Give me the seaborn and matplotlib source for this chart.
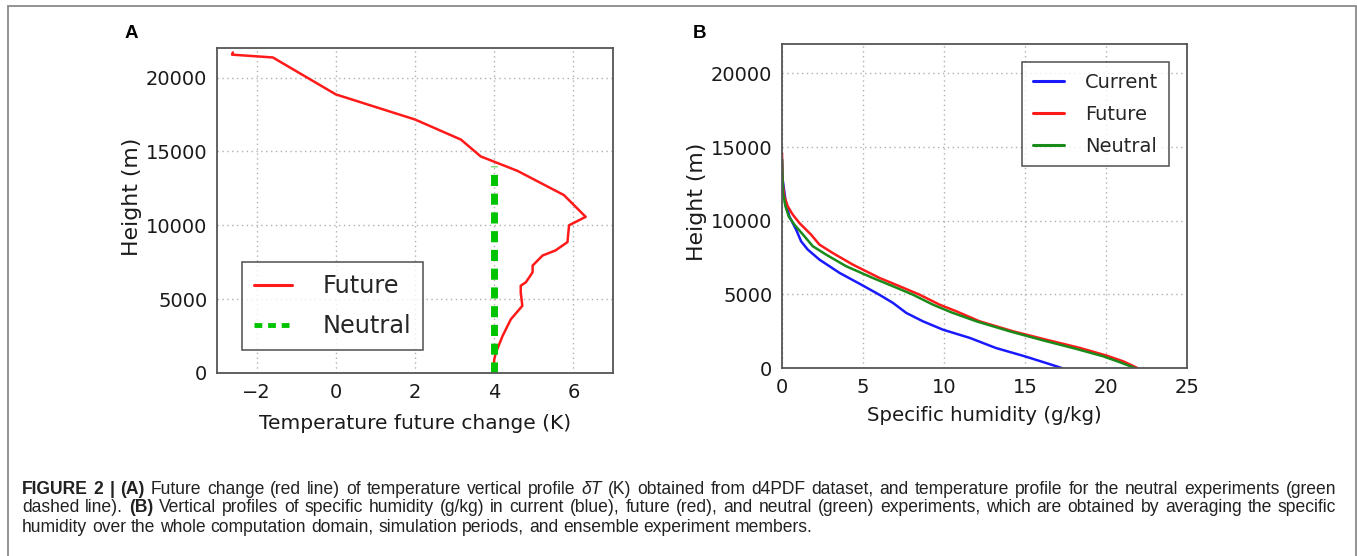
import numpy as np
import pandas as pd
import matplotlib
matplotlib.use("Agg")
import matplotlib.pyplot as plt
from matplotlib.patches import Rectangle
import seaborn as sns

# ---------------- data ----------------
# Panel A: temperature future change profile
dT_future = [-2.6, -2.62, -1.59, 0.0, 2.0, 3.16, 3.66, 4.59, 5.76, 6.31, 5.89, 5.85, 5.55,
             5.22, 4.97, 4.97, 4.8, 4.67, 4.67, 4.71, 4.42, 4.21, 4.04, 4.0, 3.98]
h_future_A = [21700, 21550, 21360, 18860, 17160, 15800, 14660, 13680, 12045, 10570, 10000, 8860, 8300,
              7950, 7270, 6820, 6140, 5910, 5450, 4545, 3636, 2500, 1360, 900, 0]
dT_neutral = [4.0, 4.0]
h_neutral_A = [0, 14000]

# Panel B: specific humidity profiles (g/kg) vs height (m)
q_current = [17.26, 16.3, 15.0, 13.2, 11.6, 9.94, 8.7, 7.67, 6.85, 6.0, 4.89, 3.55, 2.31, 1.59,
             1.18, 0.87, 0.45, 0.21, 0.04, 0.0]
h_current = [0, 340, 790, 1360, 2040, 2600, 3170, 3740, 4420, 4980, 5660, 6460, 7360, 8040,
             8600, 9400, 10300, 11440, 12800, 14150]
q_future = [21.94, 21.07, 20.04, 18.4, 16.3, 14.27, 12.2, 10.76, 9.73, 8.49, 7.26, 6.02, 4.37,
            3.13, 2.31, 1.79, 1.07, 0.66, 0.35, 0.14, 0.04, 0.0]
h_future = [0, 450, 840, 1360, 1925, 2490, 3170, 3850, 4300, 4980, 5550, 6115, 7020,
            7810, 8380, 9060, 9850, 10420, 10990, 11660, 12570, 14600]
q_neutral = [21.8, 20.87, 19.84, 18.19, 16.1, 14.06, 12.0, 10.45, 9.32, 8.08, 6.85, 5.6, 3.96,
             2.72, 1.9, 1.38, 0.76, 0.41, 0.21, 0.06, 0.0]
h_neutral = [0, 385, 790, 1290, 1880, 2490, 3170, 3780, 4300, 4980, 5550, 6115, 6910,
             7700, 8270, 8950, 9740, 10300, 10990, 11890, 14150]

xticks_A = [-2, 0, 2, 4, 6]
xticks_B = [0, 5, 10, 15, 20, 25]
yticks = [0, 5000, 10000, 15000, 20000]

# ---------------- style ----------------
sns.set_theme(style="white")
plt.rcParams['font.family'] = ['DejaVu Sans']

W, H = 1357, 556
fig = plt.figure(figsize=(W / 100, H / 100), dpi=100)
fig.patch.set_facecolor("white")

FRAME = "#555555"
GRIDC = "#b0b0b0"
TXT = "#1a1a1a"

def style_axes(ax, xlim, xticks):
    ax.set_xlim(*xlim)
    ax.set_ylim(0, 22000)
    ax.set_xticks(xticks)
    ax.set_yticks(yticks)
    ax.set_xticklabels([str(t).replace("-", "\u2212") for t in xticks])
    ax.grid(True, linestyle=(0, (1, 2.5)), color=GRIDC, linewidth=1.0)
    ax.tick_params(axis="both", labelsize=14, length=0, pad=7, colors=TXT)
    for s in ax.spines.values():
        s.set_color(FRAME)
        s.set_linewidth(1.3)
        s.set_visible(True)
    ax.set_facecolor("white")

# ---------------- Panel A ----------------
axA = fig.add_axes([217 / W, 1 - 373 / H, 396 / W, 325 / H])
dfA = pd.DataFrame({"x": dT_future, "h": h_future_A})
dfN = pd.DataFrame({"x": dT_neutral, "h": h_neutral_A})
sns.lineplot(data=dfA, x="x", y="h", sort=False, estimator=None, orient="y",
             color="#ff1a1a", linewidth=1.8, ax=axA, label="Future")
sns.lineplot(data=dfN, x="x", y="h", sort=False, estimator=None, orient="y",
             color="#00c400", linewidth=5, dashes=False, ax=axA, label="Neutral")
axA.lines[-1].set_linestyle((0, (1.6, 1.1)))
style_axes(axA, (-3, 7), xticks_A)
axA.set_xlabel("Temperature future change (K)", fontsize=14.5, color=TXT, labelpad=9)
axA.set_ylabel("Height (m)", fontsize=15.8, color=TXT)
axA.yaxis.set_label_coords(-0.189, 0.543)
legA = axA.legend(loc="lower left", bbox_to_anchor=(0.063, 0.071), borderaxespad=0,
                  fontsize=17.3, frameon=True, fancybox=False, handlelength=1.6,
                  handletextpad=1.25, borderpad=0.5, labelspacing=0.66)
legA.get_frame().set_edgecolor("#333333")
legA.get_frame().set_linewidth(1.2)
legA.legend_handles[0].set_linewidth(2.2)
legA.legend_handles[1].set_linewidth(3.5)
legA.legend_handles[1].set_linestyle((0, (1.6, 1.2)))

# ---------------- Panel B ----------------
axB = fig.add_axes([782 / W, 1 - 368 / H, 405 / W, 324 / H])
for q, h, c, lab in [(q_current, h_current, "#1a1aff", "Current"),
                     (q_future, h_future, "#ff1a1a", "Future"),
                     (q_neutral, h_neutral, "#1a8a1a", "Neutral")]:
    d = pd.DataFrame({"q": q, "h": h})
    sns.lineplot(data=d, x="q", y="h", sort=False, estimator=None, orient="y",
                 color=c, linewidth=1.8, ax=axB, label=lab)
style_axes(axB, (0, 25), xticks_B)
axB.set_xlabel("Specific humidity (g/kg)", fontsize=14.2, color=TXT, labelpad=7)
axB.set_ylabel("Height (m)", fontsize=15.8, color=TXT)
axB.yaxis.set_label_coords(-0.185, 0.512)
legB = axB.legend(loc="upper right", bbox_to_anchor=(0.9556, 0.944), borderaxespad=0,
                  fontsize=14, frameon=True, fancybox=False, handlelength=1.6,
                  handletextpad=1.1, borderpad=0.55, labelspacing=0.66)
legB.get_frame().set_edgecolor("#333333")
legB.get_frame().set_linewidth(1.2)
for lh in legB.legend_handles:
    lh.set_linewidth(2.2)

# ---------------- panel letters ----------------
fig.text(125 / W, 1 - 34 / H, "A", fontsize=13.5, fontweight="bold",
         family="Liberation Sans", va="center", ha="left", color="black")
fig.text(693 / W, 1 - 34 / H, "B", fontsize=13.5, fontweight="bold",
         family="Liberation Sans", va="center", ha="left", color="black")

# ---------------- outer border ----------------
fig.patches.append(Rectangle((8 / W, -0.05), (1356 - 8) / W, (H - 6) / H + 0.05,
                             transform=fig.transFigure, fill=False,
                             edgecolor="#8a8a8a", linewidth=1.3, zorder=0))

# ---------------- caption (justified) ----------------
cap_lines = [
    [("FIGURE 2 | (A)", "bold", "normal"),
     ("Future change (red line) of temperature vertical profile", "normal", "normal"),
     ("\u03b4T", "normal", "italic"),
     ("(K) obtained from d4PDF dataset, and temperature profile for the neutral experiments (green", "normal", "normal")],
    [("dashed line).", "normal", "normal"),
     ("(B)", "bold", "normal"),
     ("Vertical profiles of specific humidity (g/kg) in current (blue), future (red), and neutral (green) experiments, which are obtained by averaging the specific", "normal", "normal")],
    [("humidity over the whole computation domain, simulation periods, and ensemble experiment members.", "normal", "normal")],
]
cap_y = [489, 508, 527]
justify = [True, True, False]
renderer = fig.canvas.get_renderer()
CAP_FS = 12.65
X0, X1 = 22.0, 1336.0
probe = fig.text(0, 0, "a a", fontsize=CAP_FS, family="Liberation Sans")
probe2 = fig.text(0, 0, "aa", fontsize=CAP_FS, family="Liberation Sans")
space_w = probe.get_window_extent(renderer).width - probe2.get_window_extent(renderer).width
probe.remove(); probe2.remove()

for line, yy, jus in zip(cap_lines, cap_y, justify):
    words = []
    for txt, wt, st in line:
        for w_ in txt.split(" "):
            words.append((w_, wt, st))
    arts = []
    for w_, wt, st in words:
        t = fig.text(0, 1 - yy / H, w_, fontsize=CAP_FS, fontweight=wt, fontstyle=st,
                     family="Liberation Sans", color="#222222", va="center", ha="left")
        arts.append((t, t.get_window_extent(renderer).width))
    total = sum(wd for _, wd in arts)
    gap = (X1 - X0 - total) / (len(arts) - 1) if jus else space_w
    gap = max(gap, 0.6 * space_w)
    x = X0
    for t, wd in arts:
        t.set_x(x / W)
        x += wd + gap

fig.savefig("out.png", dpi=100)
